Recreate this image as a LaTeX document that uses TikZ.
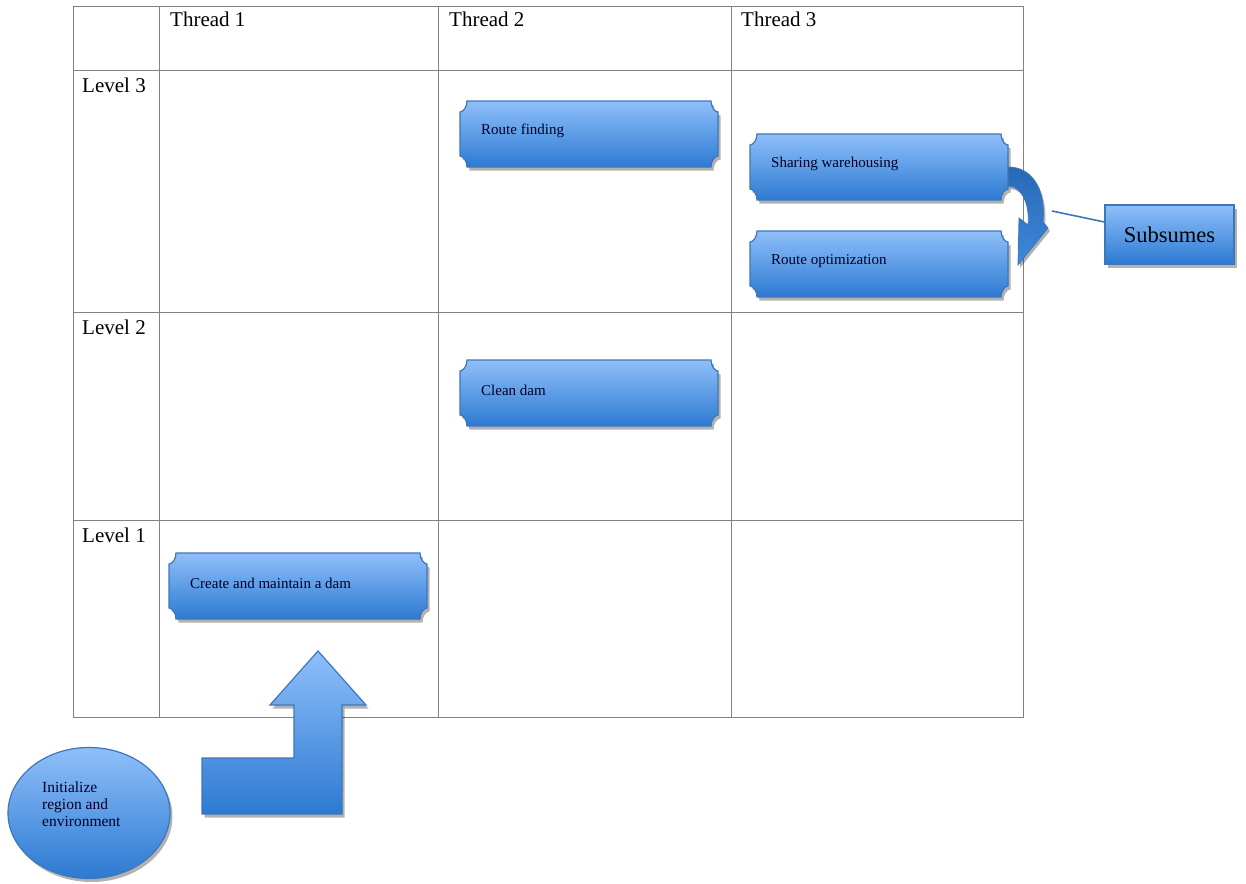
\documentclass[tikz,border=0pt]{standalone}
\usepackage{fontspec}
\setmainfont{Liberation Serif}
\usetikzlibrary{shadows,calc,shapes.geometric}
\definecolor{bluetop}{RGB}{143,191,250}
\definecolor{bluebot}{RGB}{44,122,210}
\definecolor{blueedge}{RGB}{62,118,186}
\definecolor{arrowdark}{RGB}{40,105,180}
\definecolor{gridc}{RGB}{130,130,130}
\tikzset{
  gridline/.style={draw=gridc, line width=0.9pt},
  bluefill/.style={top color=bluetop, bottom color=bluebot, draw=blueedge, line width=1.2pt,
     drop shadow={shadow xshift=2.5pt, shadow yshift=-3.5pt, fill=black, opacity=0.3}},
  hdr/.style={anchor=base west, font=\fontsize{21}{23}\selectfont, inner sep=0pt},
  btxt/.style={anchor=west, font=\fontsize{15}{17}\selectfont, text=black!85!blue, inner sep=0pt},
  anchorbox/.style={minimum width=258pt, minimum height=66pt, inner sep=0pt, draw=none}
}
\newcommand{\plq}[4]{%
  \node[anchorbox] (#1) at ({#2+129},{#3+33}) {};
  \path[bluefill] ({#2+7},{#3}) -- ({#2+251},{#3})
     .. controls ({#2+251},{#3+6}) and ({#2+254.8},{#3+11}) .. ({#2+258},{#3+11})
     -- ({#2+258},{#3+55})
     .. controls ({#2+254.8},{#3+55}) and ({#2+251},{#3+60}) .. ({#2+251},{#3+66})
     -- ({#2+7},{#3+66})
     .. controls ({#2+7},{#3+60}) and ({#2+3.2},{#3+55}) .. ({#2},{#3+55})
     -- ({#2},{#3+11})
     .. controls ({#2+3.2},{#3+11}) and ({#2+7},{#3+6}) .. cycle;
  \node[btxt] (#1-t) at ({#2+21},{#3+30}) {#4};
}
\begin{document}
\begin{tikzpicture}[x=1pt,y=-1pt]
\useasboundingbox (0,0) rectangle (1246,883);
% grid
\draw[gridline] (73,6) rectangle (1023,717);
\foreach \xx in {159,438,731} \draw[gridline] (\xx,6) -- (\xx,717);
\foreach \yy in {70,312,520} \draw[gridline] (73,\yy) -- (1023,\yy);
% headers
\node[hdr] (th1) at (170,27) {Thread 1};
\node[hdr] (th2) at (449,27) {Thread 2};
\node[hdr] (th3) at (741,27) {Thread 3};
\node[hdr] (l3) at (82,92) {Level 3};
\node[hdr] (l2) at (82,334) {Level 2};
\node[hdr] (l1) at (82,542) {Level 1};
% boxes
\plq{rf}{460}{101}{Route finding}
\plq{sw}{750}{134}{Sharing warehousing}
\plq{ro}{750}{231}{Route optimization}
\plq{cd}{460}{360}{Clean dam}
\plq{cm}{169}{553}{Create and maintain a dam}
% curved arrow
\coordinate (ca) at (1044,214);
\path[top color=arrowdark, bottom color=bluebot!80!bluetop, draw=blueedge, line width=0.8pt,
      drop shadow={shadow xshift=2pt, shadow yshift=-3pt, fill=black, opacity=0.3}]
   (sw.east |- 0,167) .. controls (1030,167) and (1046,186) .. (1043,222)
   -- (1048,228) -- (1018,265) -- (1019,218) -- (1028,225)
   .. controls (1030,205) and (1022,186) .. (sw.east |- 0,186) -- cycle;
% subsumes
\node[bluefill, minimum width=129pt, minimum height=59pt, inner sep=0pt,
      font=\fontsize{22.5}{24}\selectfont] (sub) at (1169.5,234.5) {Subsumes};
\draw[blueedge, line width=1.6pt] (ca)++(8,-3) coordinate (cb) -- (sub.west |- 0,222);
% ellipse
\node[bluefill, ellipse, minimum width=162pt, minimum height=131pt, inner sep=0pt] (init) at (89,813) {};
\node[anchor=north west, align=left, inner sep=0pt, font=\fontsize{15.5}{17}\selectfont, text=black!85!blue] (initt) at (42,782)
  {Initialize\\region and\\environment};
% bent arrow
\path[bluefill] (202,758) -- (294,758) -- (294,705) -- (270,705) -- (318,651) -- (366,705) -- (342,705) -- (342,814) -- (202,814) -- cycle;
\end{tikzpicture}
\end{document}
